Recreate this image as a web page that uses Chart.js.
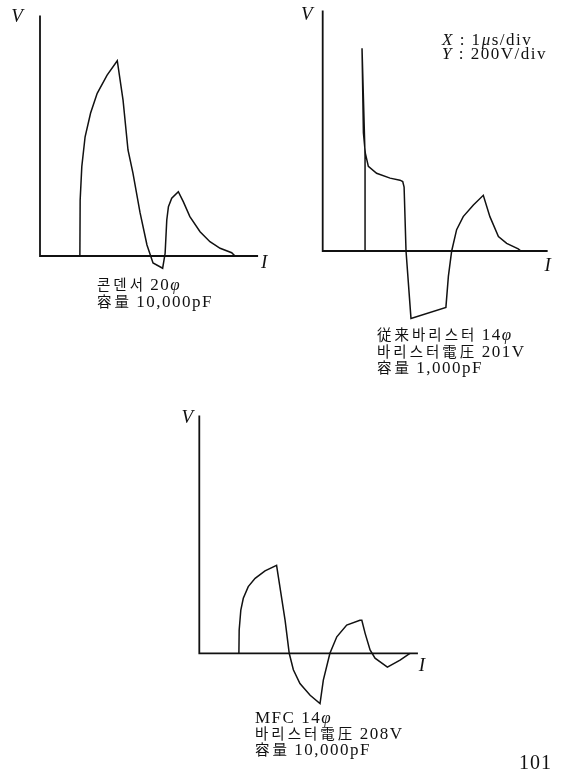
<!DOCTYPE html>
<html>
<head>
<meta charset="utf-8">
<script src="https://cdn.jsdelivr.net/npm/chart.js@4.4.1/dist/chart.umd.min.js"></script>
<style>
  html, body { margin: 0; padding: 0; background: #fff; }
  #page { position: relative; width: 562px; height: 770px; overflow: hidden; background: #fff; }
  #page canvas { position: absolute; left: 0; top: 0; }
  .cap {
    position: absolute;
    font-family: "Liberation Serif", "Noto Sans CJK KR", serif;
    font-size: 17px; line-height: 15.5px; color: #111; white-space: nowrap;
  }
  .cap .k { font-size: 14.5px; letter-spacing: 3px; }
  .cap .n { letter-spacing: 1.5px; }
  .scale { position: absolute; left: 442px; top: 33px; font-family: "Liberation Serif", serif;
           font-size: 17px; line-height: 14px; color: #111; white-space: nowrap; letter-spacing: 1.5px; }
  .pageno { position: absolute; left: 519px; top: 751px; font-family: "Liberation Serif", serif;
            font-size: 20px; color: #111; letter-spacing: 1px; }
</style>
</head>
<body>
<div id="page">
  <canvas id="cap" width="562" height="770"></canvas>
  <canvas id="conv" width="562" height="770"></canvas>
  <canvas id="mfc" width="562" height="770"></canvas>

  <div class="scale"><i>X</i> : 1<i>μ</i>s/div<br><i>Y</i> : 200V/div</div>

  <div class="cap" style="left:97px; top:277px;">
    <span class="k">콘덴서</span> <span class="n">20<i>φ</i></span><br>
    <span class="k">容量</span> <span class="n">10,000pF</span>
  </div>

  <div class="cap" style="left:377px; top:327px;">
    <span class="k">従来바리스터</span> <span class="n">14<i>φ</i></span><br>
    <span class="k">바리스터電圧</span> <span class="n">201V</span><br>
    <span class="k">容量</span> <span class="n">1,000pF</span>
  </div>

  <div class="cap" style="left:255px; top:710px;">
    <span class="n">MFC 14<i>φ</i></span><br>
    <span class="k">바리스터電圧</span> <span class="n">208V</span><br>
    <span class="k">容量</span> <span class="n">10,000pF</span>
  </div>

  <div class="pageno">101</div>
</div>

<script>
// Surge voltage waveforms, X: 1 µs/div, Y: 200 V/div.

// Capacitor 20φ, 10,000 pF
const capTime = [1.45, 1.46, 1.52, 1.64, 1.84, 2.08, 2.44, 2.81, 3.02, 3.20, 3.38, 3.64, 3.89, 4.11, 4.46,
                 4.55, 4.61, 4.67, 4.79, 5.03, 5.21, 5.45, 5.82, 6.18, 6.55, 6.97, 7.09];
const capVolt = [0, 405, 650, 867, 1040, 1183, 1316, 1420, 1134, 771, 603, 313, 80, -51, -89,
                 20, 262, 359, 420, 468, 395, 286, 177, 104, 56, 24, 0];

// Conventional varistor 14φ, varistor voltage 201 V, 1,000 pF
const convTime = [1.54, 1.54, 1.43, 1.48, 1.55, 1.66, 1.96, 2.45, 2.81, 2.91, 2.96, 3.03, 3.21, 4.48,
                  4.57, 4.69, 4.87, 5.11, 5.48, 5.84, 6.08, 6.39, 6.69, 7.11, 7.21];
const convVolt = [0, 690, 1475, 860, 712, 615, 565, 530, 515, 505, 465, 0, -490, -410,
                  -185, 0, 155, 250, 335, 405, 250, 105, 55, 15, 0];

// MFC 14φ, varistor voltage 208 V, 10,000 pF
const mfcTime = [1.44, 1.45, 1.51, 1.60, 1.78, 2.03, 2.39, 2.81, 2.93, 3.12, 3.27, 3.42, 3.66, 4.03,
                 4.39, 4.51, 4.75, 5.00, 5.36, 5.84, 5.91, 6.03, 6.21, 6.39, 6.84, 7.30, 7.66];
const mfcVolt = [0, 170, 315, 400, 485, 545, 600, 640, 485, 240, 0, -120, -220, -305,
                 -365, -195, 0, 120, 205, 240, 240, 145, 25, -35, -100, -50, 0];

const PX_PER_US = 27.5;          // one division horizontally
const PX_PER_V = 27.5 / 200;     // one division = 200 V
const W = 562, H = 770;
const INK = '#111';

// Draws the two axis lines (from the origin only) and the V / I letters.
function axesPlugin(lab) {
  return {
    id: 'axesLetters',
    beforeDatasetsDraw(chart) {
      const xs = chart.scales.x, ys = chart.scales.y, ctx = chart.ctx;
      const x0 = xs.getPixelForValue(0), y0 = ys.getPixelForValue(0);
      const xEnd = xs.getPixelForValue(xs.max), yTop = ys.getPixelForValue(ys.max);
      ctx.save();
      ctx.strokeStyle = INK;
      ctx.lineWidth = 1.8;
      ctx.lineCap = 'butt';
      ctx.beginPath();
      ctx.moveTo(x0, yTop);
      ctx.lineTo(x0, y0);
      ctx.lineTo(xEnd, y0);
      ctx.stroke();
      ctx.fillStyle = INK;
      ctx.font = 'italic 19px "Liberation Serif", serif';
      ctx.textAlign = 'center';
      ctx.textBaseline = 'middle';
      ctx.fillText('V', x0 + lab.vx, yTop + lab.vy);
      ctx.fillText('I', xEnd + lab.ix, y0 + lab.iy);
      ctx.restore();
    }
  };
}

function panel(id, ox, oy, xMax, yMin, yMax, time, volt, lab) {
  const left = ox, right = ox + xMax * PX_PER_US;
  const top = oy - yMax * PX_PER_V, bottom = oy - yMin * PX_PER_V;
  return new Chart(document.getElementById(id), {
    type: 'scatter',
    data: {
      datasets: [{
        data: time.map((t, i) => ({ x: t, y: volt[i] })),
        showLine: true,
        borderColor: INK,
        borderWidth: 1.5,
        pointRadius: 0,
        tension: 0,
        clip: false
      }]
    },
    options: {
      responsive: false,
      animation: false,
      devicePixelRatio: 1,
      layout: { padding: { left: left, right: W - right, top: top, bottom: H - bottom } },
      plugins: { legend: { display: false }, tooltip: { enabled: false } },
      events: [],
      scales: {
        x: { type: 'linear', min: 0, max: xMax, display: false },
        y: { type: 'linear', min: yMin, max: yMax, display: false }
      }
    },
    plugins: [axesPlugin(lab)]
  });
}

panel('cap', 40, 256, 7.93, -150, 1750, capTime, capVolt, { vx: -23, vy: 2, ix: 6, iy: 7 });
panel('conv', 322.7, 251, 8.18, -560, 1750, convTime, convVolt, { vx: -16, vy: 5, ix: 0, iy: 15 });
panel('mfc', 199.3, 653.3, 7.95, -450, 1730, mfcTime, mfcVolt, { vx: -12, vy: 3, ix: 4, iy: 13 });
</script>
</body>
</html>
